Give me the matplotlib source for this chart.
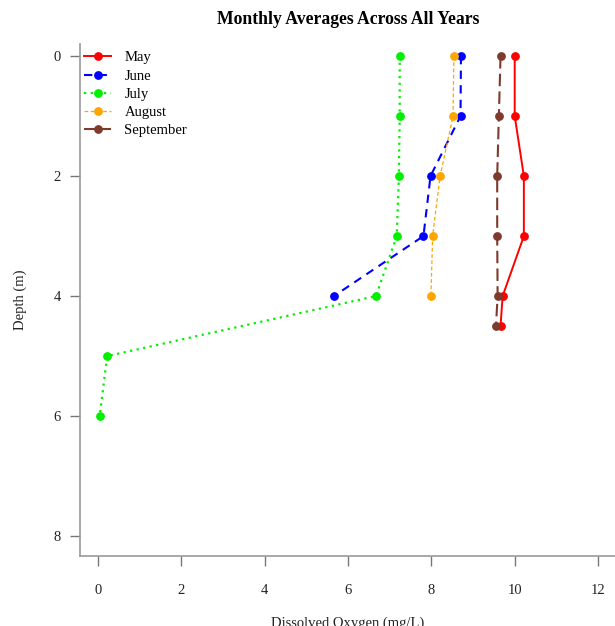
import matplotlib
matplotlib.use("Agg")
import matplotlib.pyplot as plt

plt.rcParams['font.family'] = ['Liberation Serif', 'DejaVu Serif']

# Data (Dissolved Oxygen mg/L vs depth m)
may_depth = [0, 1, 2, 3, 4, 4.5]
may_do = [10.0, 10.0, 10.22, 10.22, 9.71, 9.66]

june_depth = [0, 1, 2, 3, 4]
june_do = [8.71, 8.70, 7.98, 7.81, 5.66]

july_depth = [0, 1, 2, 3, 4, 5, 6]
july_do = [7.24, 7.24, 7.22, 7.17, 6.67, 0.22, 0.04]

aug_depth = [0, 1, 2, 3, 4]
aug_do = [8.54, 8.52, 8.21, 8.03, 7.99]

sep_depth = [0, 1, 2, 3, 4, 4.5]
sep_do = [9.66, 9.62, 9.58, 9.58, 9.59, 9.55]

x_ticks = [0, 2, 4, 6, 8, 10, 12]
y_ticks = [0, 2, 4, 6, 8]

fig = plt.figure(figsize=(6.15, 6.26), dpi=100)
W, H = 615, 626
left_px, right_px, top_px, bottom_px = 80, 615, 44, 556
ax = fig.add_axes([left_px / W, 1 - bottom_px / H,
                   (right_px - left_px) / W, (bottom_px - top_px) / H])

ms = 5.3
ax.plot(may_do, may_depth, color='#FF0000', linestyle='-', linewidth=1.4,
        marker='o', markersize=ms, label='May')
ax.plot(june_do, june_depth, color='#0000FF', linestyle=(0, (4, 3)), linewidth=1.5,
        marker='o', markersize=ms, label='June')
ax.plot(july_do, july_depth, color='#00F000', linestyle=(0, (1, 2)), linewidth=1.6,
        marker='o', markersize=ms, label='July')
ax.plot(aug_do, aug_depth, color='#FFA500', linestyle=(0, (3, 2)), linewidth=0.9,
        marker='o', markersize=ms, label='August')
ax.plot(sep_do, sep_depth, color='#7E3A2C', linestyle=(0, (6, 2.5)), linewidth=1.5,
        marker='o', markersize=ms, label='September')

ax.set_xlim((left_px - 98) / 41.67, (right_px - 98) / 41.67)
ax.set_ylim(8.33, -0.2)
ax.set_xticks(x_ticks)
ax.set_yticks(y_ticks)

for s in ['top', 'right']:
    ax.spines[s].set_visible(False)
for s in ['left', 'bottom']:
    ax.spines[s].set_color('#999999')
    ax.spines[s].set_linewidth(1.2)

ax.tick_params(axis='both', colors='#777777', length=7, width=1.0, labelsize=10.5,
               labelcolor='#222222')
ax.tick_params(axis='x', pad=13)
ax.tick_params(axis='y', pad=7)

ax.set_xlabel('Dissolved Oxygen (mg/L)', fontsize=10.5, color='#222222', labelpad=14)
ax.set_ylabel('Depth (m)', fontsize=10.5, color='#222222', labelpad=19)
fig.text(348 / W, 1 - 19 / H, 'Monthly Averages Across All Years', ha='center', va='center',
         fontsize=12.7, fontweight='bold')

leg = ax.legend(loc='upper left', bbox_to_anchor=(-3.0 / (right_px - left_px), 1.0),
                frameon=False, fontsize=10.5, handlelength=1.85, handletextpad=0.9,
                labelspacing=0.34, borderpad=0.0, borderaxespad=0.5)

fig.savefig('out.png', dpi=100)
